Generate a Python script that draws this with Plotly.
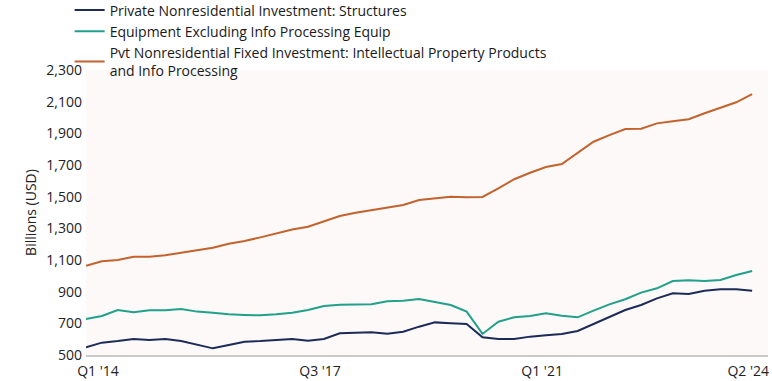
import plotly.graph_objects as go

quarters = []
for yr in range(2014, 2025):
    for q in range(1, 5):
        quarters.append(f"Q{q} '{str(yr)[2:]}")
quarters = quarters[:43]  # Q1 '14 .. Q3 '24

structures = [549, 578, 588, 601, 595, 601, 588, 567, 542, 563,
              584, 588, 595, 601, 590, 601, 637, 641, 643, 635,
              647, 679, 706, 700, 696, 612, 601, 601, 616, 624,
              633, 652, 697, 742, 784, 816, 858, 890, 885, 906,
              915, 915, 906]

equipment = [727, 746, 784, 770, 782, 782, 790, 774, 767, 757,
             753, 751, 757, 767, 784, 809, 818, 820, 820, 839,
             843, 854, 837, 816, 774, 633, 710, 738, 746, 763,
             748, 738, 780, 820, 852, 894, 921, 967, 972, 967,
             974, 1005, 1031]

ipp = [1064, 1092, 1100, 1121, 1121, 1130, 1146, 1161, 1178, 1203,
       1220, 1243, 1269, 1292, 1310, 1345, 1378, 1399, 1416, 1430,
       1447, 1479, 1490, 1500, 1496, 1498, 1553, 1610, 1651, 1687,
       1706, 1778, 1847, 1889, 1927, 1929, 1963, 1976, 1989, 2027,
       2064, 2096, 2148]

series_names = [
    "Private Nonresidential Investment: Structures",
    "Equipment Excluding Info Processing Equip",
    "Pvt Nonresidential Fixed Investment: Intellectual Property Products<br>and Info Processing",
]
colors = ["#1c2b58", "#21a08a", "#c4622d"]

tick_labels = ["Q1 '14", "Q3 '17", "Q1 '21", "Q2 '24"]
y_ticks = list(range(500, 2301, 200))

fig = go.Figure()
for name, vals, c in zip(series_names, [structures, equipment, ipp], colors):
    fig.add_trace(go.Scatter(x=quarters, y=vals, mode="lines", name=name,
                             line=dict(color=c, width=2)))

font_family = "'Open Sans', 'Noto Sans', sans-serif"
fig.update_layout(
    width=772, height=381,
    margin=dict(l=86, r=4, t=70, b=26, autoexpand=False),
    paper_bgcolor="white",
    plot_bgcolor="#fcf9f8",
    font=dict(family=font_family, size=14, color="#222222"),
    showlegend=True,
    legend=dict(x=-0.024, y=1.265, xref="paper", yref="paper",
                xanchor="left", yanchor="top",
                font=dict(size=14, color="#1a1a1a"),
                bgcolor="rgba(0,0,0,0)", tracegroupgap=0,
                itemwidth=30),
    xaxis=dict(type="category", range=[0, 43], tickmode="array",
               tickvals=tick_labels, ticktext=tick_labels,
               showgrid=False, zeroline=False, showline=True,
               linecolor="#c8c8c8", linewidth=2, ticks="",
               ticklabelshift=12, ticklabelstandoff=2,
               tickfont=dict(size=14, color="#222222")),
    yaxis=dict(range=[500, 2300], tickvals=y_ticks,
               ticktext=[f"{v:,}" for v in y_ticks],
               showgrid=False, zeroline=False, showline=False,
               ticks="", ticklabelstandoff=3,
               tickfont=dict(size=14, color="#222222"),
               title=dict(text="Billions (USD)", font=dict(size=14, color="#222222"),
                          standoff=6)),
)

fig.write_html("out.html", config={"displayModeBar": False},
               post_script="document.body.style.margin='0';")
